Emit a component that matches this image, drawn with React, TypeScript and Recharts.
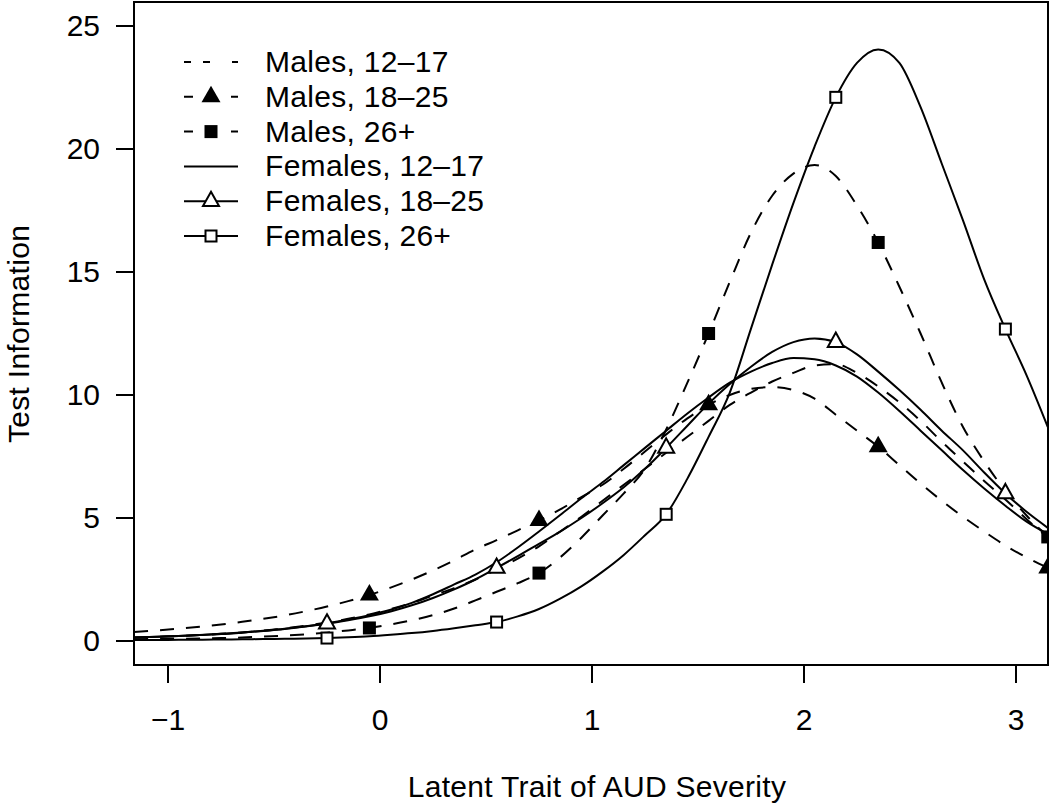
import React from "react";
import { ComposedChart, Line, XAxis, YAxis, ReferenceArea } from "recharts";

// latent trait grid (theta) and test information
const theta = [
  -1.16, -1.05, -0.95, -0.85, -0.75, -0.65, -0.55, -0.45, -0.35, -0.25, -0.15,
  -0.05, 0.05, 0.15, 0.25, 0.35, 0.45, 0.55, 0.65, 0.75, 0.85, 0.95, 1.05, 1.15,
  1.25, 1.35, 1.45, 1.55, 1.65, 1.75, 1.85, 1.95, 2.05, 2.15, 2.25, 2.35, 2.45,
  2.55, 2.65, 2.75, 2.85, 2.95, 3.05, 3.15
];

const males1217 = [
  0.14, 0.17, 0.2, 0.24, 0.29, 0.35, 0.42, 0.51, 0.62, 0.75, 0.9, 1.08, 1.3,
  1.55, 1.85, 2.15, 2.5, 2.9, 3.35, 3.85, 4.45, 5.05, 5.7, 6.35, 7.0, 7.65, 8.3,
  8.95, 9.6, 10.1, 10.55, 10.9, 11.2, 11.25, 10.9, 10.35, 9.7, 8.95, 8.1, 7.3,
  6.5, 5.75, 4.95, 4.2
];
const males1825 = [
  0.37, 0.43, 0.5, 0.58, 0.67, 0.78, 0.9, 1.04, 1.21, 1.4, 1.62, 1.87, 2.17,
  2.5, 2.87, 3.28, 3.72, 4.1, 4.5, 4.9, 5.35, 5.85, 6.35, 7.0, 7.7, 8.4, 9.05,
  9.6, 10.0, 10.25, 10.32, 10.2, 9.85, 9.2, 8.55, 7.9, 7.15, 6.4, 5.7, 5.05,
  4.45, 3.88, 3.4, 2.97
];
const males26 = [
  0.07, 0.08, 0.09, 0.1, 0.12, 0.14, 0.18, 0.22, 0.27, 0.34, 0.43, 0.53, 0.67,
  0.84, 1.05, 1.32, 1.65, 2.0, 2.35, 2.76, 3.4, 4.2, 5.1, 6.0, 7.0, 8.6, 10.5,
  12.5, 14.6, 16.6, 18.1, 19.0, 19.35, 18.9, 17.7, 16.2, 14.4, 12.5, 10.5, 8.7,
  7.3, 6.1, 5.1, 4.23
];
const females1217 = [
  0.14, 0.17, 0.2, 0.24, 0.29, 0.35, 0.42, 0.5, 0.6, 0.72, 0.87, 1.05, 1.27,
  1.55, 1.9, 2.3, 2.7, 3.2, 3.8, 4.45, 5.12, 5.8, 6.45, 7.15, 7.85, 8.55, 9.25,
  9.9, 10.5, 10.95, 11.3, 11.5, 11.45, 11.2, 10.75, 10.1, 9.35, 8.55, 7.75,
  6.95, 6.2, 5.5, 4.85, 4.35
];
const females1825 = [
  0.14, 0.17, 0.2, 0.24, 0.28, 0.34, 0.41, 0.49, 0.59, 0.7, 0.84, 1.0, 1.2,
  1.45, 1.75, 2.1, 2.5, 2.97, 3.45, 3.95, 4.45, 5.0, 5.6, 6.25, 7.0, 7.85, 8.75,
  9.65, 10.45, 11.15, 11.75, 12.15, 12.3, 12.15, 11.65, 10.95, 10.2, 9.4, 8.55,
  7.75, 6.85, 6.0, 5.25, 4.6
];
const females26 = [
  0.04, 0.04, 0.05, 0.05, 0.06, 0.07, 0.08, 0.09, 0.1, 0.12, 0.15, 0.19, 0.25,
  0.32, 0.41, 0.52, 0.64, 0.77, 1.0, 1.3, 1.72, 2.22, 2.82, 3.5, 4.3, 5.15,
  6.6, 8.3, 10.1, 12.7, 15.3, 17.8, 20.1, 22.1, 23.5, 24.05, 23.5, 21.7, 19.4,
  17.1, 14.7, 12.68, 10.8, 8.7
];

const markersMales = [-0.05, 0.75, 1.55, 2.35, 3.15];
const markersFemales = [-0.25, 0.55, 1.35, 2.15, 2.95];

const xTicks = [-1, 0, 1, 2, 3];
const yTicks = [0, 5, 10, 15, 20, 25];
const xDomain: [number, number] = [-1.1604, 3.151];
const yDomain: [number, number] = [-0.976, 25.976];

type MarkerKind = "none" | "filledTri" | "filledSq" | "openTri" | "openSq";

const series: {
  key: string;
  name: string;
  values: number[];
  dashed: boolean;
  marker: MarkerKind;
  markAt: number[];
}[] = [
  { key: "m1217", name: "Males, 12–17", values: males1217, dashed: true, marker: "none", markAt: [] },
  { key: "m1825", name: "Males, 18–25", values: males1825, dashed: true, marker: "filledTri", markAt: markersMales },
  { key: "m26", name: "Males, 26+", values: males26, dashed: true, marker: "filledSq", markAt: markersMales },
  { key: "f1217", name: "Females, 12–17", values: females1217, dashed: false, marker: "none", markAt: [] },
  { key: "f1825", name: "Females, 18–25", values: females1825, dashed: false, marker: "openTri", markAt: markersFemales },
  { key: "f26", name: "Females, 26+", values: females26, dashed: false, marker: "openSq", markAt: markersFemales }
];

const data = theta.map((x, i) => {
  const row: Record<string, number> = { x };
  series.forEach((s) => {
    row[s.key] = s.values[i];
  });
  return row;
});

const FONT = "'Liberation Sans', Arial, Helvetica, sans-serif";
const FS = 30;
const LS = 0.3;
const DASH = "14 12";

function marker(kind: MarkerKind, cx: number, cy: number, key?: string) {
  switch (kind) {
    case "filledTri":
      return (
        <polygon
          key={key}
          points={`${cx},${cy - 11} ${cx + 9.5},${cy + 5.5} ${cx - 9.5},${cy + 5.5}`}
          fill="#000"
        />
      );
    case "filledSq":
      return <rect key={key} x={cx - 6.5} y={cy - 6.5} width={13} height={13} fill="#000" />;
    case "openTri":
      return (
        <polygon
          key={key}
          points={`${cx},${cy - 9.5} ${cx + 8},${cy + 4.8} ${cx - 8},${cy + 4.8}`}
          fill="#fff"
          stroke="#000"
          strokeWidth={2}
        />
      );
    case "openSq":
      return (
        <rect key={key} x={cx - 5.5} y={cy - 5.5} width={11} height={11} fill="#fff" stroke="#000" strokeWidth={2} />
      );
    default:
      return <g key={key} />;
  }
}

const XTick = (props: any) => {
  const { x, y, payload } = props;
  const v = payload.value as number;
  const label = v < 0 ? `\u2212${Math.abs(v)}` : String(v);
  return (
    <text x={x} y={y + 45} textAnchor="middle" fontFamily={FONT} fontSize={FS} fill="#000">
      {label}
    </text>
  );
};

const YTick = (props: any) => {
  const { x, y, payload } = props;
  return (
    <text x={x - 14} y={y + 10} textAnchor="end" fontFamily={FONT} fontSize={FS} fill="#000">
      {payload.value}
    </text>
  );
};

const legendRows = series.map((s, i) => ({ ...s, cy: 62 + i * 34.8 }));

function Legend() {
  return (
    <svg width={1050} height={805} style={{ position: "absolute", left: 0, top: 0, pointerEvents: "none" }}>
      {legendRows.map((r) => {
        let dash: string | undefined;
        if (r.dashed) dash = r.marker === "none" ? "7 12 7 22 6 100" : "9 38 7 100";
        return (
          <g key={r.key}>
            <line x1={184} x2={238} y1={r.cy} y2={r.cy} stroke="#000" strokeWidth={2} strokeDasharray={dash} />
            {marker(r.marker, 211, r.cy)}
            <text x={265} y={r.cy + 10} fontFamily={FONT} fontSize={FS} letterSpacing={LS} fill="#000">
              {r.name}
            </text>
          </g>
        );
      })}
      <text x={597} y={797} textAnchor="middle" fontFamily={FONT} fontSize={FS} letterSpacing={LS} fill="#000">
        Latent Trait of AUD Severity
      </text>
      <text
        x={0}
        y={0}
        transform="translate(29,334) rotate(-90)"
        textAnchor="middle"
        fontFamily={FONT}
        fontSize={FS}
        letterSpacing={LS}
        fill="#000"
      >
        Test Information
      </text>
    </svg>
  );
}

export default function App() {
  const axisLine = { stroke: "#000", strokeWidth: 2 };
  return (
    <div style={{ position: "absolute", left: 0, top: 0, width: 1050, height: 805, background: "#fff" }}>
      <ComposedChart width={1050} height={805} data={data} margin={{ top: 2, right: 2, bottom: 0, left: 0 }}>
        <XAxis
          type="number"
          dataKey="x"
          domain={xDomain}
          ticks={xTicks}
          allowDataOverflow
          height={140}
          axisLine={axisLine}
          tickLine={axisLine}
          tickSize={18}
          tick={<XTick />}
        />
        <YAxis
          type="number"
          domain={yDomain}
          ticks={yTicks}
          allowDataOverflow
          width={134}
          axisLine={axisLine}
          tickLine={axisLine}
          tickSize={18}
          tick={<YTick />}
        />
        {series.map((s) => (
          <Line
            key={s.key}
            dataKey={s.key}
            name={s.name}
            type="monotone"
            stroke="#000"
            strokeWidth={2}
            strokeDasharray={s.dashed ? DASH : undefined}
            isAnimationActive={false}
            activeDot={false}
            dot={(p: any) => {
              const hit = s.markAt.some((m) => Math.abs(m - p.payload.x) < 1e-6);
              return hit ? marker(s.marker, p.cx, p.cy, `${s.key}-${p.index}`) : <g key={`${s.key}-${p.index}`} />;
            }}
          />
        ))}
        <ReferenceArea
          x1={xDomain[0]}
          x2={xDomain[1]}
          y1={yDomain[0]}
          y2={yDomain[1]}
          ifOverflow="visible"
          fill="none"
          fillOpacity={0}
          stroke="#000"
          strokeWidth={2}
        />
      </ComposedChart>
      <Legend />
    </div>
  );
}
